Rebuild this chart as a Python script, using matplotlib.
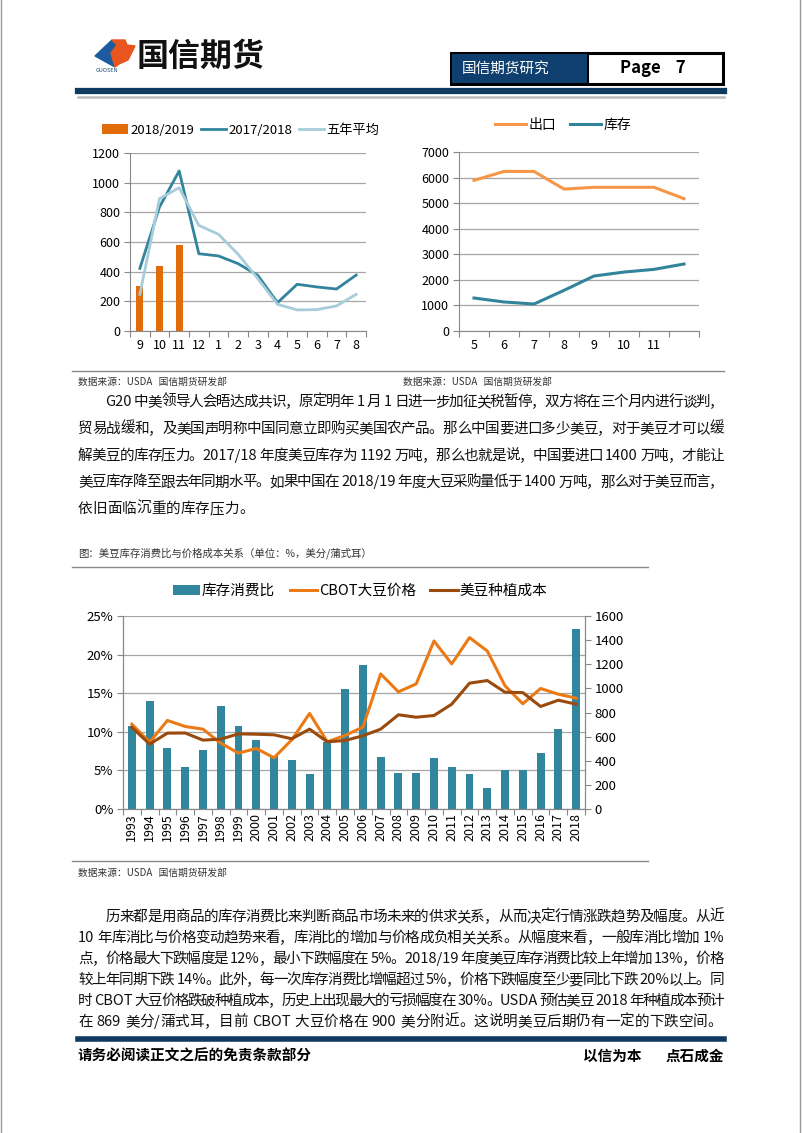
import re
import numpy as np
import matplotlib
matplotlib.use('Agg')
import matplotlib.pyplot as plt
from matplotlib.patches import Rectangle, Polygon
from matplotlib.lines import Line2D

plt.rcParams['font.family'] = ['Noto Sans CJK SC', 'DejaVu Sans']
plt.rcParams['axes.unicode_minus'] = False

# ---- data: chart 1 (monthly, 9 -> 8)
months1 = ['9', '10', '11', '12', '1', '2', '3', '4', '5', '6', '7', '8']
bars_1819 = [301, 436, 578]
line_1718 = [422, 836, 1079, 521, 506, 454, 375, 191, 315, 297, 283, 377]
avg_5yr = [247, 892, 966, 712, 652, 517, 353, 180, 142, 144, 169, 247]

# ---- data: chart 2
months2 = ['5', '6', '7', '8', '9', '10', '11', '']
export = [5890, 6240, 6240, 5550, 5620, 5620, 5620, 5175]
stock = [1290, 1135, 1055, 1590, 2150, 2305, 2410, 2620]

# ---- data: chart 3 (1993-2018)
years = [str(y) for y in range(1993, 2019)]
stock_use = [10.7, 14.0, 7.9, 5.4, 7.6, 13.4, 10.7, 8.9, 6.9, 6.4, 4.5, 8.7, 15.6,
             18.6, 6.7, 4.6, 4.6, 6.6, 5.4, 4.5, 2.7, 5.0, 5.0, 7.2, 10.3, 23.3]
cbot_price = [703, 554, 734, 684, 662, 546, 463, 502, 425, 574, 792, 557, 610,
              679, 1120, 971, 1037, 1393, 1203, 1421, 1310, 1021, 872, 999, 952, 919]
plant_cost = [676, 538, 629, 630, 571, 579, 623, 620, 615, 582, 662, 557, 568,
              607, 662, 781, 761, 775, 869, 1043, 1065, 968, 965, 850, 902, 869]

W, H = 802, 1133
fig = plt.figure(figsize=(W / 100, H / 100), dpi=100)
fig.patch.set_facecolor('white')

page = fig.add_axes([0, 0, 1, 1])
page.set_xlim(0, W)
page.set_ylim(H, 0)
page.axis('off')
renderer = fig.canvas.get_renderer()


def box(l, t, r, b):
    return fig.add_axes([l / W, 1 - b / H, (r - l) / W, (b - t) / H])


def hline(y, x0, x1, color, lw):
    page.add_line(Line2D([x0, x1], [y, y], color=color, lw=lw))


def put_line(s, x0, x1, y, size, justify=True, **kw):
    # place a text line token by token, spread to fill x0..x1
    tokens = re.findall(r'[A-Za-z0-9./%]+| |.', s)
    widths = []
    for t in tokens:
        if t == ' ':
            widths.append(size * 1.389 * 0.28)
        else:
            tt = page.text(0, 0, t, fontsize=size, **kw)
            widths.append(tt.get_window_extent(renderer).width)
            tt.remove()
    gap = (x1 - x0 - sum(widths)) / (len(tokens) - 1) if justify else 0
    x = x0
    for t, w in zip(tokens, widths):
        if t != ' ':
            page.text(x, y, t, fontsize=size, va='center', ha='left', color='#111111', **kw)
        x += w + gap


# ---- page frame and header
page.add_line(Line2D([1, 1], [0, H], color='#999999', lw=1))
page.add_line(Line2D([800, 800], [0, H], color='#999999', lw=1))

page.add_patch(Polygon([(95, 56), (112, 40), (117, 45), (111, 53), (115, 67)],
                       closed=True, color='#1C5C9E'))
page.add_patch(Polygon([(112, 40), (125, 40), (127, 45), (135, 46), (128, 60),
                        (119, 64), (115, 67), (111, 53), (117, 45)],
                       closed=True, color='#E8551E'))
page.text(96, 70, 'GUOSEN', fontsize=4, color='#1F4E79', va='center')
page.text(137, 57, '国信期货', fontsize=23, fontweight='bold', va='center', color='#111111')

page.add_patch(Rectangle((451, 53), 272, 31, facecolor='white', edgecolor='black', lw=2.2))
page.add_patch(Rectangle((452, 54), 136, 29, facecolor='#0F3F6E', edgecolor='none'))
page.add_line(Line2D([588, 588], [53, 84], color='black', lw=1.5))
page.text(462, 69, '国信期货研究', fontsize=10.5, color='white', va='center')
page.text(620, 68, 'Page    7', fontsize=12, fontweight='bold', va='center')

hline(90.5, 78, 724, '#0E3A5F', 4.5)
hline(97, 78, 724, '#BBBBBB', 1.8)

# ---- chart 1
ax1 = box(130, 153, 366, 331)
x1 = np.arange(len(months1))
b1 = ax1.bar(x1[:len(bars_1819)], bars_1819, width=0.37, color='#E36C0A')
l1, = ax1.plot(x1, line_1718, color='#31849B', lw=2.0)
l2, = ax1.plot(x1, avg_5yr, color='#A7CCDA', lw=2.0)
ax1.set_ylim(0, 1200)
ax1.set_yticks(range(0, 1201, 200))
ax1.set_xlim(-0.5, len(months1) - 0.5)

# ---- chart 2
ax2 = box(459, 152, 699, 331)
x2 = np.arange(len(months2))
ax2.plot(x2, export, color='#F79646', lw=2.2, label='出口')
ax2.plot(x2, stock, color='#31849B', lw=2.2, label='库存')
ax2.set_ylim(0, 7000)
ax2.set_yticks(range(0, 7001, 1000))
ax2.set_xlim(-0.5, len(months2) - 0.5)

for ax, labels in ((ax1, months1), (ax2, months2)):
    n = len(labels)
    ax.set_xticks(np.arange(-0.5, n, 1.0))
    ax.set_xticklabels([])
    ax.set_xticks(np.arange(n), minor=True)
    ax.set_xticklabels(labels, minor=True, fontsize=9)
    ax.tick_params(axis='x', which='major', length=4, color='#888888', direction='out')
    ax.tick_params(axis='x', which='minor', length=0, pad=6)
    ax.tick_params(axis='y', length=4, color='#888888', labelsize=9, pad=3)
    ax.yaxis.grid(True, color='#A6A6A6', lw=0.9)
    ax.set_axisbelow(True)
    for s in ('top', 'right'):
        ax.spines[s].set_visible(False)
    for s in ('left', 'bottom'):
        ax.spines[s].set_color('#888888')

ax1.legend([b1, l1, l2], ['2018/2019', '2017/2018', '五年平均'], loc='center',
           bbox_to_anchor=(241 / W, 1 - 130 / H), bbox_transform=fig.transFigure,
           ncol=3, frameon=False, fontsize=9.5, handlelength=1.9, handletextpad=0.2,
           columnspacing=0.5, borderpad=0)
ax2.legend(loc='center', bbox_to_anchor=(563 / W, 1 - 125 / H), bbox_transform=fig.transFigure,
           ncol=2, frameon=False, fontsize=10, handlelength=2.2, handletextpad=0.2,
           columnspacing=1.0, borderpad=0)

hline(371, 72, 724, '#888888', 1)
page.text(78, 382, '数据来源：USDA   国信期货研发部', fontsize=7, va='center', color='#333333')
page.text(403, 382, '数据来源：USDA   国信期货研发部', fontsize=7, va='center', color='#333333')

# ---- paragraph 1
para1 = [
    'G20 中美领导人会晤达成共识，原定明年 1 月 1 日进一步加征关税暂停，双方将在三个月内进行谈判，',
    '贸易战缓和，及美国声明称中国同意立即购买美国农产品。那么中国要进口多少美豆，对于美豆才可以缓',
    '解美豆的库存压力。2017/18 年度美豆库存为 1192 万吨，那么也就是说，中国要进口 1400 万吨，才能让',
    '美豆库存降至跟去年同期水平。如果中国在 2018/19 年度大豆采购量低于 1400 万吨，那么对于美豆而言，',
    '依旧面临沉重的库存压力。',
]
for i, s in enumerate(para1):
    put_line(s, 105 if i == 0 else 78, 724, 402 + i * 26.8, 10.5, justify=(i < len(para1) - 1))

# ---- chart 3
page.text(78, 553, '图：美豆库存消费比与价格成本关系（单位：%，美分/蒲式耳）', fontsize=7.5,
          va='center', color='#333333')
hline(567, 72, 648, '#888888', 1)

ax3 = box(123, 616, 585, 809)
x3 = np.arange(len(years))
ax3.bar(x3, stock_use, width=0.45, color='#31859C', label='库存消费比')
ax3.set_ylim(0, 25)
ax3.set_yticks(range(0, 26, 5))
ax3.set_yticklabels([f'{v}%' for v in range(0, 26, 5)])
ax3.set_xlim(-0.5, len(years) - 0.5)
ax3.set_xticks(np.arange(-0.5, len(years), 1.0))
ax3.set_xticklabels([])
ax3.set_xticks(x3, minor=True)
ax3.set_xticklabels(years, minor=True, rotation=90, fontsize=9)
ax3.tick_params(axis='x', which='major', length=4, color='#888888')
ax3.tick_params(axis='x', which='minor', length=0, pad=3)
ax3.tick_params(axis='y', length=4, color='#888888', labelsize=9.5, pad=3)
ax3.yaxis.grid(True, color='#A6A6A6', lw=0.9)
ax3.set_axisbelow(True)

ax3b = ax3.twinx()
ax3b.plot(x3, cbot_price, color='#EC7A14', lw=2.2, label='CBOT大豆价格')
ax3b.plot(x3, plant_cost, color='#9A4A0C', lw=2.2, label='美豆种植成本')
ax3b.set_ylim(0, 1600)
ax3b.set_yticks(range(0, 1601, 200))
ax3b.tick_params(axis='y', length=4, color='#888888', labelsize=9.5, pad=3)
for a in (ax3, ax3b):
    a.spines['top'].set_visible(False)
    for s in ('left', 'right', 'bottom'):
        a.spines[s].set_color('#888888')

h1, lab1 = ax3.get_legend_handles_labels()
h2, lab2 = ax3b.get_legend_handles_labels()
ax3b.legend(h1 + h2, lab1 + lab2, loc='center', bbox_to_anchor=(360 / W, 1 - 591 / H),
            bbox_transform=fig.transFigure, ncol=3, frameon=False, fontsize=10.5,
            handlelength=1.9, handletextpad=0.1, columnspacing=1.0, borderpad=0)

hline(861, 72, 648, '#888888', 1)
page.text(78, 873, '数据来源：USDA   国信期货研发部', fontsize=7, va='center', color='#333333')

# ---- paragraph 2
para2 = [
    '历来都是用商品的库存消费比来判断商品市场未来的供求关系，从而决定行情涨跌趋势及幅度。从近',
    '10 年库消比与价格变动趋势来看，库消比的增加与价格成负相关关系。从幅度来看，一般库消比增加 1%',
    '点，价格最大下跌幅度是 12%，最小下跌幅度在 5%。2018/19 年度美豆库存消费比较上年增加 13%，价格',
    '较上年同期下跌 14%。此外，每一次库存消费比增幅超过 5%，价格下跌幅度至少要同比下跌 20%以上。同',
    '时 CBOT 大豆价格跌破种植成本，历史上出现最大的亏损幅度在 30%。USDA 预估美豆 2018 年种植成本预计',
    '在 869 美分/蒲式耳，目前 CBOT 大豆价格在 900 美分附近。这说明美豆后期仍有一定的下跌空间。',
]
for i, s in enumerate(para2):
    put_line(s, 105 if i == 0 else 78, 724, 917 + i * 21, 10.5, justify=(i < len(para2) - 1))

# ---- footer
hline(1039, 78, 724, '#0E3A5F', 4)
page.text(78, 1056, '请务必阅读正文之后的免责条款部分', fontsize=10.5, fontweight='bold', va='center')
page.text(583, 1056, '以信为本', fontsize=10.5, fontweight='bold', va='center')
page.text(666, 1056, '点石成金', fontsize=10.5, fontweight='bold', va='center')

fig.savefig('out.png', dpi=100)
